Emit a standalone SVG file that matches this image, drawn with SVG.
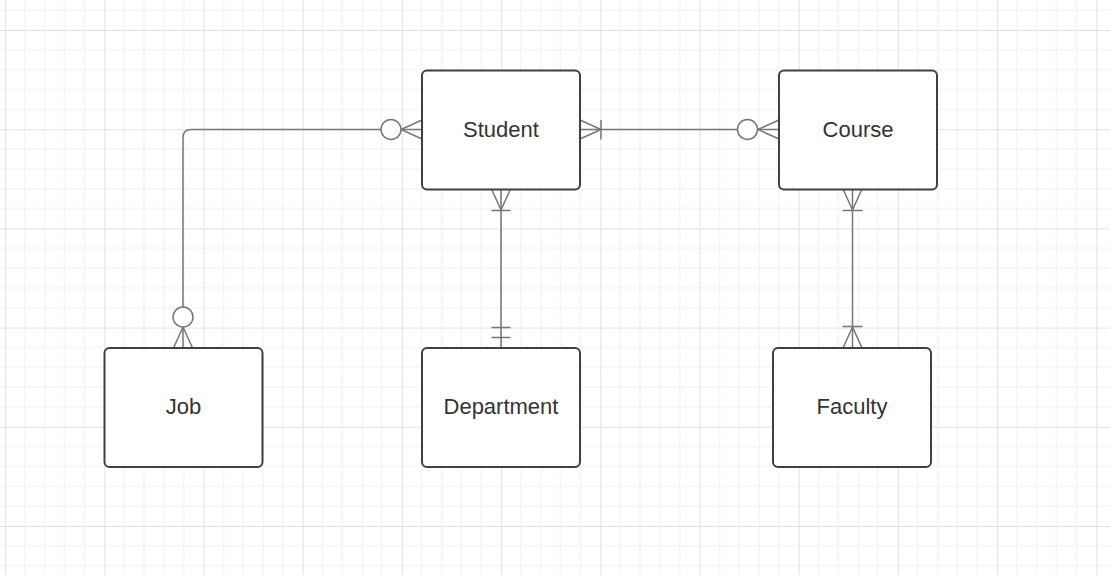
<svg xmlns="http://www.w3.org/2000/svg" width="1110" height="575" viewBox="0 0 1110 575">
<defs>
<pattern id="grid" patternUnits="userSpaceOnUse" x="5.1" y="30" width="99.2" height="99.2">
<path d="M19.84 0V99.2M39.68 0V99.2M59.52 0V99.2M79.36 0V99.2M0 19.84H99.2M0 39.68H99.2M0 59.52H99.2M0 79.36H99.2" stroke="#efefef" stroke-width="1" fill="none"/>
<path d="M0.5 0V99.2M0 0.5H99.2" stroke="#e2e2e2" stroke-width="1" fill="none"/>
</pattern>
<style>
.box{fill:#ffffff;stroke:#3f3f44;stroke-width:2}
.lbl{font-family:"Liberation Sans",Arial,sans-serif;font-size:22px;fill:#333333;text-anchor:middle}
.ln{fill:none;stroke:#75757a;stroke-width:1.5}
.cir{fill:#ffffff;stroke:#75757a;stroke-width:1.5}
</style>
</defs>
<rect width="1110" height="575" fill="#ffffff"/>
<rect width="1110" height="575" fill="url(#grid)"/>

<g id="connectors">
<!-- Job - Student -->
<g id="c-job-student">
<path class="ln" d="M183 348V137.5Q183 129.5 191 129.5H422"/>
<path class="ln" d="M422 120L401 129.5L422 139"/>
<circle class="cir" cx="391" cy="129.5" r="10"/>
<path class="ln" d="M173.5 348L183 327L192.5 348"/>
<circle class="cir" cx="183" cy="317" r="10"/>
</g>
<!-- Student - Course -->
<g id="c-student-course">
<path class="ln" d="M580 129.5H779"/>
<path class="ln" d="M580 120L601 129.5L580 139M601 120V139.5"/>
<path class="ln" d="M779 120L758 129.5L779 139"/>
<circle class="cir" cx="747.5" cy="129.5" r="10"/>
</g>
<!-- Student - Department -->
<g id="c-student-department">
<path class="ln" d="M501 189V348"/>
<path class="ln" d="M491.5 189L501 210L510.5 189M491.5 210.5H510.5"/>
<path class="ln" d="M491.5 327.5H510.5M491.5 337.5H510.5"/>
</g>
<!-- Course - Faculty -->
<g id="c-course-faculty">
<path class="ln" d="M852.5 189V348"/>
<path class="ln" d="M843 189L852.5 210L862 189M842.5 210.5H862.5"/>
<path class="ln" d="M843 348L852.5 327L862 348M842.5 326.5H862.5"/>
</g>
</g>

<g id="student"><rect class="box" x="422" y="70.5" width="158" height="119" rx="5"/><text class="lbl" x="501" y="137">Student</text></g>
<g id="course"><rect class="box" x="779" y="70.5" width="158" height="119" rx="5"/><text class="lbl" x="858" y="137">Course</text></g>
<g id="job"><rect class="box" x="104.5" y="348" width="158" height="119" rx="5"/><text class="lbl" x="183.5" y="414">Job</text></g>
<g id="department"><rect class="box" x="422" y="348" width="158" height="119" rx="5"/><text class="lbl" x="501" y="414">Department</text></g>
<g id="faculty"><rect class="box" x="773" y="348" width="158" height="119" rx="5"/><text class="lbl" x="852" y="414">Faculty</text></g>
</svg>
